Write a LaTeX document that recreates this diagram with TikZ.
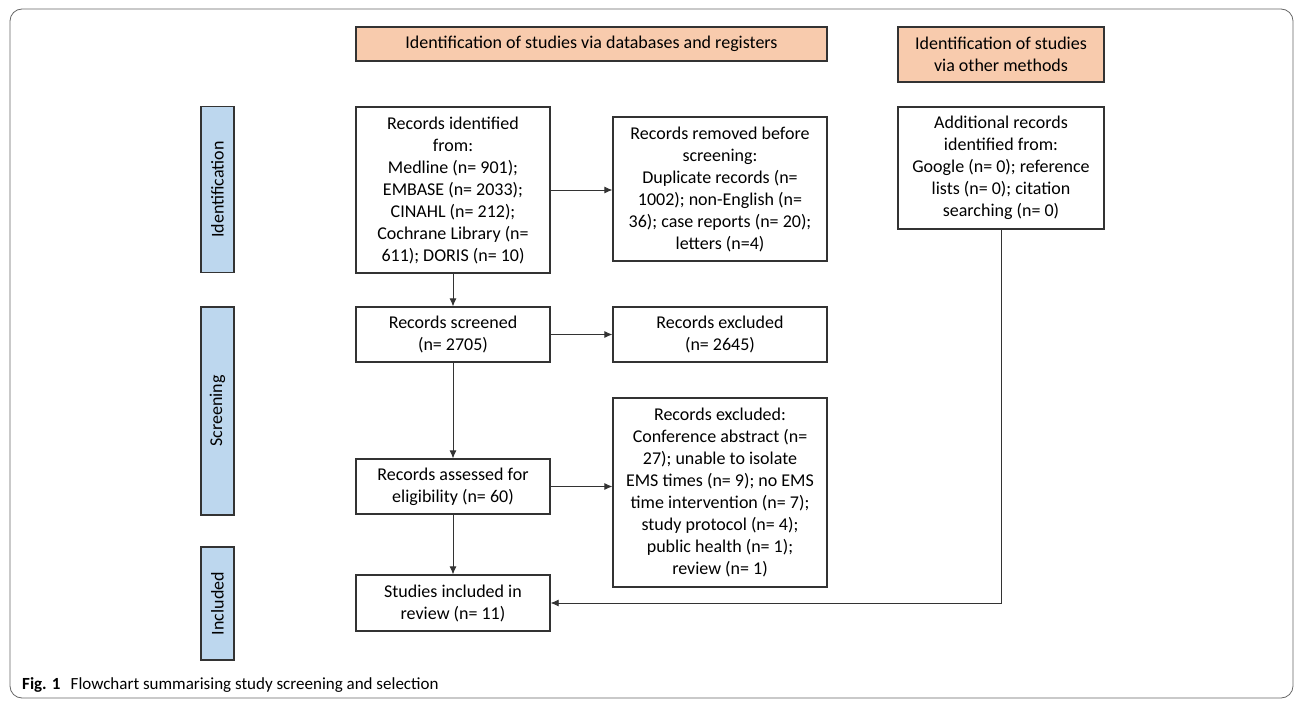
\documentclass[tikz,border=0pt]{standalone}
\usepackage{fontspec}
\setmainfont{Carlito}
\usepackage{tikz}
\usetikzlibrary{arrows.meta}

\definecolor{headfill}{HTML}{F8CBAD}
\definecolor{phasefill}{HTML}{BDD7EE}
\definecolor{edge}{HTML}{333333}

\begin{document}
\begin{tikzpicture}[x=1pt,y=-1pt,
    box/.style={draw=edge, line width=1.3pt, fill=white, align=center, inner sep=2pt,
                font=\fontsize{18}{22}\selectfont},
    headbox/.style={box, fill=headfill},
    phase/.style={draw=edge, line width=1.3pt, fill=phasefill, rotate=90, minimum height=33pt,
                  inner sep=0pt, font=\fontsize{18}{22}\selectfont},
    link/.style={draw=edge, line width=0.8pt, -{Latex[length=8pt,width=7pt]}}]
    \useasboundingbox (0,0) rectangle (1296,701);
    \draw[gray!80!black, line width=0.8pt, rounded corners=12pt] (10,9) rectangle (1293,698);

    % Kopfzeilen
    \node[headbox, minimum width=471pt, minimum height=34pt] (head1) at (591.5,44)
        {Identification of studies via databases and registers};
    \node[headbox, minimum width=206pt, minimum height=55pt] (head2) at (1001,54.5)
        {Identification of studies\\via other methods};

    % Phasen
    \node[phase, minimum width=166pt] (ident) at (217.5,189.5) {Identification};
    \node[phase, minimum width=208pt] (screen) at (217.5,411) {Screening};
    \node[phase, minimum width=113pt] (incl) at (217.5,603.5) {Included};

    % Kaesten
    \node[box, minimum width=194pt, minimum height=166pt] (recid) at (453,190)
        {Records identified\\from:\\Medline (n= 901);\\EMBASE (n= 2033);\\CINAHL (n= 212);\\Cochrane Library (n=\\611); DORIS (n= 10)};
    \node[box, minimum width=214pt, minimum height=144pt] (removed) at (720,189)
        {Records removed before\\screening:\\Duplicate records (n=\\1002); non-English (n=\\36); case reports (n= 20);\\letters (n=4)};
    \node[box, minimum width=206pt, minimum height=122pt] (addrec) at (1001,168)
        {Additional records\\identified from:\\Google (n= 0); reference\\lists (n= 0); citation\\searching (n= 0)};
    \node[box, minimum width=194pt, minimum height=55pt] (screened) at (453,334.5)
        {Records screened\\(n= 2705)};
    \node[box, minimum width=214pt, minimum height=55pt] (excl1) at (720,334.5)
        {Records excluded\\(n= 2645)};
    \node[box, minimum width=194pt, minimum height=55pt] (assessed) at (453,486.5)
        {Records assessed for\\eligibility (n= 60)};
    \node[box, minimum width=214pt, minimum height=189pt] (excl2) at (720,492.5)
        {Records excluded:\\Conference abstract (n=\\27); unable to isolate\\EMS times (n= 9); no EMS\\time intervention (n= 7);\\study protocol (n= 4);\\public health (n= 1);\\review (n= 1)};
    \node[box, minimum width=194pt, minimum height=56pt] (included) at (453,603)
        {Studies included in\\review (n= 11)};

    % Pfeile
    \draw[link] (recid) -- (screened);
    \draw[link] (screened) -- (assessed);
    \draw[link] (assessed) -- (included);
    \draw[link] (recid.east) -- (recid.east -| removed.west);
    \draw[link] (screened) -- (excl1);
    \draw[link] (assessed.east) -- (assessed.east -| excl2.west);
    \draw[link] (addrec.south) |- (included.east);

    \node[anchor=base west, inner sep=0pt, font=\fontsize{17}{20}\selectfont] (caption) at (22,689)
        {\textbf{Fig. 1}\hspace{0.6em}Flowchart summarising study screening and selection};
\end{tikzpicture}
\end{document}
